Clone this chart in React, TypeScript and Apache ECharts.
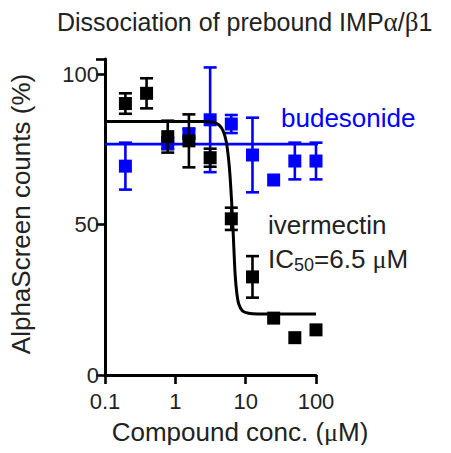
import React, { useEffect, useRef } from "react";
import * as echarts from "echarts";

// Concentrations (µM), 2-fold dilution series
const ivermectinConc = [0.195, 0.39, 0.78, 1.56, 3.125, 6.25, 12.5, 25, 50, 100];
const ivermectinMean = [90.2, 93.6, 79.2, 77.8, 72.2, 51.9, 32.6, 18.9, 12.4, 15.0];
const ivermectinErr = [3.4, 5.0, 5.3, 8.8, 3.0, 3.7, 6.9, 0, 0, 0];

const budesonideConc = [0.195, 0.78, 1.56, 3.125, 6.25, 12.5, 25, 50, 100];
const budesonideMean = [69.4, 77.0, 80.2, 84.8, 83.4, 73.1, 64.8, 71.1, 71.1];
const budesonideErr = [7.8, 2.0, 1.5, 17.4, 3.0, 12.4, 0, 6.1, 6.1];

// Fitted ivermectin curve
const curveConc = [0.1, 2.5, 3.5, 4.2, 4.8, 5.3, 5.7, 6.0, 6.3, 6.5, 6.8, 7.1, 7.5, 8.0, 9.0, 11, 15, 100];
const curveValue = [84.2, 84.2, 84.0, 83.0, 81.0, 77.5, 72.0, 66.0, 58.0, 52.0, 42.0, 33.0, 27.0, 23.5, 21.3, 20.5, 20.3, 20.3];

// Budesonide mean line (extends past the axis end)
const budesonideLineConc = [0.1, 193];
const budesonideLineValue = [76.7, 76.7];

const yTicks = [0, 50, 100];
const xTickLabels = ["0.1", "1", "10", "100"];

const BLUE = "#0000ff";
const BLACK = "#000000";
const TEXT = "#222222";
const FONT = "Liberation Sans, Arial, Helvetica, sans-serif";
const GREEK = "Liberation Serif, Times New Roman, serif";

function errBars(color: string) {
  return (params: any, api: any) => {
    const x = api.value(0);
    const lo = api.value(1);
    const hi = api.value(2);
    const top = api.coord([x, hi]);
    const bot = api.coord([x, lo]);
    const hw = 6.5;
    const st = { stroke: color, lineWidth: 2.6 };
    return {
      type: "group",
      children: [
        { type: "line", shape: { x1: top[0], y1: top[1], x2: bot[0], y2: bot[1] }, style: st },
        { type: "line", shape: { x1: top[0] - hw, y1: top[1], x2: top[0] + hw, y2: top[1] }, style: st },
        { type: "line", shape: { x1: bot[0] - hw, y1: bot[1], x2: bot[0] + hw, y2: bot[1] }, style: st },
      ],
    };
  };
}

export default function App() {
  const ref = useRef<HTMLDivElement>(null);
  useEffect(() => {
    if (!ref.current) return;
    const chart = echarts.init(ref.current, undefined, { renderer: "svg" });

    const ivErr = ivermectinConc
      .map((c, i) => [c, ivermectinMean[i] - ivermectinErr[i], ivermectinMean[i] + ivermectinErr[i], ivermectinErr[i]])
      .filter((d) => d[3] > 0);
    const buErr = budesonideConc
      .map((c, i) => [c, budesonideMean[i] - budesonideErr[i], budesonideMean[i] + budesonideErr[i], budesonideErr[i]])
      .filter((d) => d[3] > 0);

    chart.setOption({
      animation: false,
      grid: { left: 105, right: 135, top: 59, bottom: 78 },
      xAxis: {
        type: "log",
        logBase: 10,
        min: 0.1,
        max: 100,
        axisLine: { onZero: false, lineStyle: { color: BLACK, width: 3 } },
        axisTick: { length: 9, lineStyle: { color: BLACK, width: 2.6 } },
        minorTick: { show: false },
        splitLine: { show: false },
        axisLabel: {
          color: TEXT,
          fontFamily: FONT,
          fontSize: 22,
          margin: 15,
          formatter: (v: number) => {
            const idx = Math.round(Math.log10(v)) + 1;
            return xTickLabels[idx] ?? "";
          },
        },
      },
      yAxis: {
        type: "value",
        min: 0,
        max: 105,
        interval: 50,
        axisLine: { show: true, lineStyle: { color: BLACK, width: 3 } },
        axisTick: { show: true, length: 9, lineStyle: { color: BLACK, width: 2.6 } },
        splitLine: { show: false },
        axisLabel: {
          color: TEXT,
          fontFamily: FONT,
          fontSize: 22,
          margin: 6,
          formatter: (v: number) => (yTicks.includes(v) ? String(v) : ""),
        },
      },
      series: [
        {
          type: "line",
          data: budesonideLineConc.map((c, i) => [c, budesonideLineValue[i]]),
          showSymbol: false,
          clip: false,
          lineStyle: { color: BLUE, width: 2.6 },
          z: 2,
        },
        {
          type: "custom",
          data: buErr,
          renderItem: errBars(BLUE),
          z: 3,
        },
        {
          type: "scatter",
          data: budesonideConc.map((c, i) => [c, budesonideMean[i]]),
          symbol: "rect",
          symbolSize: 13,
          itemStyle: { color: BLUE, opacity: 1 },
          z: 4,
        },
        {
          type: "line",
          data: curveConc.map((c, i) => [c, curveValue[i]]),
          showSymbol: false,
          smooth: 0.3,
          lineStyle: { color: BLACK, width: 3 },
          z: 5,
        },
        {
          type: "custom",
          data: ivErr,
          renderItem: errBars(BLACK),
          z: 6,
        },
        {
          type: "scatter",
          data: ivermectinConc.map((c, i) => [c, ivermectinMean[i]]),
          symbol: "rect",
          symbolSize: 13,
          itemStyle: { color: BLACK, opacity: 1 },
          z: 7,
        },
      ],
      graphic: [
        {
          type: "text",
          x: 57,
          y: 22,
          style: {
            text: "{n|Dissociation of prebound IMP}{g|α}{n|/}{g|β}{n|1}",
            verticalAlign: "middle",
            rich: {
              n: { fontFamily: FONT, fontSize: 25, fill: TEXT },
              g: { fontFamily: GREEK, fontSize: 27, fill: TEXT },
            },
          },
        },
        {
          type: "text",
          x: 21,
          y: 214,
          rotation: Math.PI / 2,
          style: {
            text: "AlphaScreen counts (%)",
            fontFamily: FONT,
            fontSize: 26,
            fill: TEXT,
            align: "center",
            verticalAlign: "middle",
          },
        },
        {
          type: "text",
          x: 240,
          y: 432,
          style: {
            text: "{n|Compound conc. (}{g|μ}{n|M)}",
            align: "center",
            verticalAlign: "middle",
            rich: {
              n: { fontFamily: FONT, fontSize: 26, fill: TEXT },
              g: { fontFamily: GREEK, fontSize: 26, fill: TEXT },
            },
          },
        },
        {
          type: "text",
          x: 281,
          y: 118,
          style: {
            text: "budesonide",
            fontFamily: FONT,
            fontSize: 26,
            fill: BLUE,
            verticalAlign: "middle",
          },
        },
        {
          type: "text",
          x: 268,
          y: 225,
          style: {
            text: "ivermectin",
            fontFamily: FONT,
            fontSize: 26,
            fill: TEXT,
            verticalAlign: "middle",
          },
        },
        {
          type: "text",
          x: 268,
          y: 244,
          style: {
            text: "{n|IC}{s|50}{n|=6.5 }{g|μ}{n|M}",
            rich: {
              n: { fontFamily: FONT, fontSize: 26, lineHeight: 30, fill: TEXT },
              s: { fontFamily: FONT, fontSize: 18, lineHeight: 16, verticalAlign: "bottom", fill: TEXT },
              g: { fontFamily: GREEK, fontSize: 26, lineHeight: 30, fill: TEXT },
            },
          },
        },
      ],
    });
    return () => chart.dispose();
  }, []);
  return <div ref={ref} style={{ width: 451, height: 453, margin: -8 }} />;
}
